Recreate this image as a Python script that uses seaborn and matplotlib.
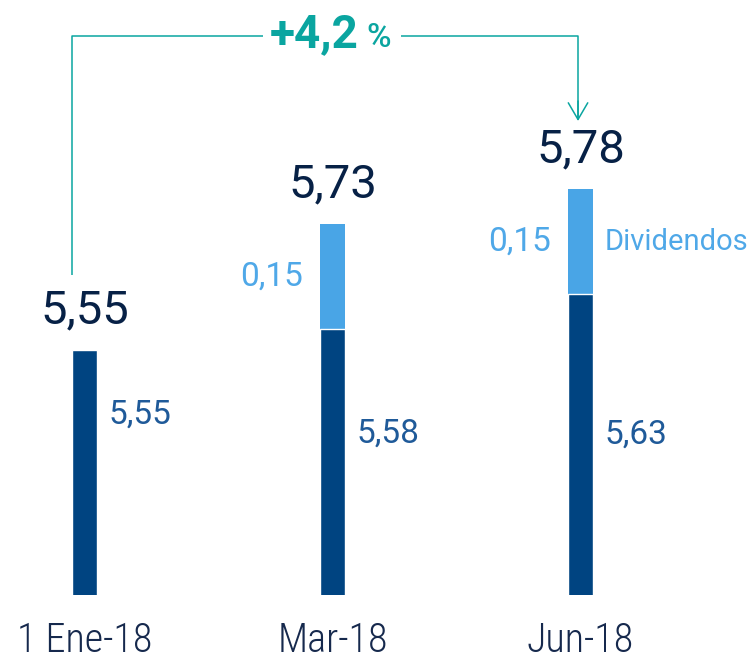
import matplotlib
matplotlib.use("Agg")
import matplotlib.pyplot as plt
import seaborn as sns
import pandas as pd

# ---- data ----
categories = ["1 Ene-18", "Mar-18", "Jun-18"]
base_values = [5.55, 5.58, 5.63]
dividends = [0.0, 0.15, 0.15]
totals = [5.55, 5.73, 5.78]
top_labels = ["5,55", "5,73", "5,78"]
base_labels = ["5,55", "5,58", "5,63"]
div_labels = [None, "0,15", "0,15"]
growth_label = "+4,2"
growth_unit = "%"
legend_label = "Dividendos"

# ---- style ----
DARK = "#004481"
LIGHT = "#49A5E6"
NAVY = "#072146"
MID = "#1F5A99"
LBL_LIGHT = "#4FA8E8"
TEAL = "#0AA5A0"

sns.set_theme(style="white")
plt.rcParams["font.family"] = ["Roboto", "DejaVu Sans"]

df = pd.DataFrame({"cat": categories, "base": base_values,
                   "total": totals, "div": dividends})

W, H = 750, 659
fig = plt.figure(figsize=(W / 100, H / 100), dpi=100)
ax_bottom_px = 595
ax = fig.add_axes([0, (H - ax_bottom_px) / H, 1, ax_bottom_px / H])

y0 = 5.2
pxu = 700.0
bw = 0.101

sns.barplot(data=df, x="cat", y="total", color=LIGHT, width=bw, saturation=1,
            ax=ax, linewidth=0)
sns.barplot(data=df, x="cat", y="base", color=DARK, width=bw, saturation=1,
            ax=ax, edgecolor="white", linewidth=1.0)

ax.set_ylim(y0, y0 + ax_bottom_px / pxu)
ax.set_xlim(-84.5 / 248, (W - 84.5) / 248)
for s in ax.spines.values():
    s.set_visible(False)
ax.set_yticks([])
ax.set_xlabel("")
ax.set_ylabel("")
ax.tick_params(axis="x", length=0, pad=19)
ax.set_xticks(range(len(categories)))
ax.set_xticklabels(categories, fontsize=29, color="#16294D", fontweight="light",
                   family=["Roboto Condensed", "Fira Sans Condensed",
                           "Archivo Narrow", "DejaVu Sans"])

def px(v):
    return v / pxu

# top totals
for i, (t, lab) in enumerate(zip(totals, top_labels)):
    ax.text(i, t + px(40), lab, ha="center", va="center", fontsize=34,
            color=NAVY, fontweight="normal")

# base labels inside-right
base_label_y = [5.457, 5.431, 5.429]
for i, (lab, yy) in enumerate(zip(base_labels, base_label_y)):
    ax.text(i + bw / 2 + 0.045, yy, lab, ha="left", va="center",
            fontsize=24, color=MID, fontweight="normal")

# dividend labels left of bar
for i, (lab, b, d) in enumerate(zip(div_labels, base_values, dividends)):
    if lab is None:
        continue
    ax.text(i - bw / 2 - 0.068, b + d / 2, lab, ha="right", va="center",
            fontsize=24, color=LBL_LIGHT, fontweight="normal")

ax.text(2 + bw / 2 + 0.045, base_values[2] + dividends[2] / 2, legend_label,
        ha="left", va="center", fontsize=21, color=LBL_LIGHT, fontweight="normal")

# growth bracket
yl = y0 + px(ax_bottom_px - 35.5)
x_left = 0 - bw / 2
x_right = 2 - 0.01
y_start = totals[0] + px(75)
y_tip = totals[2] + px(68)
ax.plot([x_left, x_left, (263 - 84.5) / 248], [y_start, yl, yl],
        color=TEAL, lw=1.1, solid_capstyle="butt", clip_on=False)
ax.plot([(401 - 84.5) / 248, x_right, x_right], [yl, yl, y_tip + px(2)],
        color=TEAL, lw=1.1, solid_capstyle="butt", clip_on=False)
ax.annotate("", xy=(x_right, y_tip), xytext=(x_right, y_tip + px(20)),
            arrowprops=dict(arrowstyle="->,head_length=0.6,head_width=0.35",
                            color=TEAL, lw=1.1, mutation_scale=20,
                            shrinkA=0, shrinkB=0))
ax.text((270 - 84.5) / 248, y0 + px(ax_bottom_px - 47), growth_label,
        ha="left", va="baseline", fontsize=33, fontweight="bold", color=TEAL)
ax.text((366 - 84.5) / 248, y0 + px(ax_bottom_px - 47), growth_unit,
        ha="left", va="baseline", fontsize=24, fontweight="medium", color=TEAL)

fig.savefig("out.png", dpi=100)
